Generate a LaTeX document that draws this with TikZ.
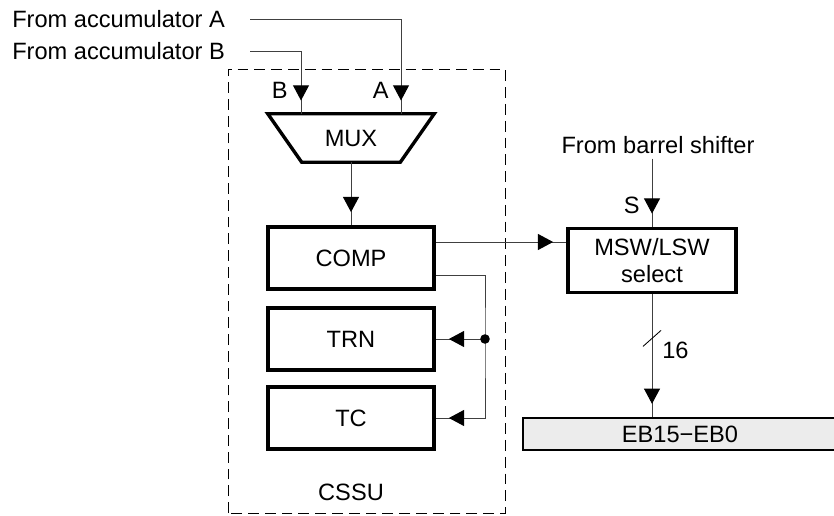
\documentclass[tikz,border=0pt]{standalone}
\usepackage{fontspec}
\setmainfont{Liberation Sans}
\usetikzlibrary{arrows.meta,positioning,decorations.markings,calc}

\begin{document}
\begin{tikzpicture}[
  blk/.style={draw,line width=2.4pt,minimum width=4.15cm,minimum height=1.55cm},
  wire/.style={draw=black!75,line width=0.7pt},
  arr/.style={wire,postaction={decorate},
    decoration={markings,mark=at position -0.33cm with {\arrow[black]{Triangle[length=0.38cm,width=0.4cm]}}}},
  lbl/.style={inner sep=0pt},
  every node/.style={font=\fontsize{16.8}{19}\selectfont}
]
  \useasboundingbox (0,0) rectangle (20.85,12.875);

  % inputs
  \node[lbl,anchor=west] (accA) at (0.3,12.4) {From accumulator A};
  \node[lbl,anchor=west] (accB) at (0.3,11.6) {From accumulator B};
  \coordinate (inA) at (6.25,12.4);
  \coordinate (inB) at (6.25,11.6);

  % CSSU
  \draw[dash pattern=on 0.27cm off 0.15cm,line width=0.7pt] (5.7,0.05) rectangle (12.625,11.15);
  \node (cssu) at (8.775,0.575) {CSSU};

  \node[minimum width=4.15cm,minimum height=1.2cm] (mux) at (8.775,9.425) {MUX};
  \draw[line width=2.4pt] (mux.north west) -- (mux.north east)
    -- ([xshift=-0.85cm]mux.south east) -- ([xshift=0.85cm]mux.south west) -- cycle;

  \node[blk] (comp) at (8.775,6.425) {COMP};
  \node[blk] (trn)  at (8.775,4.4)   {TRN};
  \node[blk] (tc)   at (8.775,2.425) {TC};

  \node[blk,minimum width=4.2cm,minimum height=1.6cm,align=center] (msw) at (16.3,6.3625) {MSW/LSW\\select};
  \node (bsh) at (16.45,9.25) {From barrel shifter};
  \node[draw,line width=1.4pt,fill=gray!15,minimum width=7.85cm,minimum height=0.8cm] (eb) at (17.0,2.025) {EB15−EB0};

  % labels
  \node[lbl,anchor=east] (lB) at (7.2,10.625) {B};
  \node[lbl,anchor=east] (lA) at (9.72,10.625) {A};
  \node[lbl,anchor=east] (lS) at (16.0,7.75) {S};

  % connectors
  \draw[arr] (inA) -| ([xshift=1.25cm]mux.north);
  \draw[arr] (inB) -| ([xshift=-1.25cm]mux.north);
  \draw[arr] (mux.south) -- (comp.north);
  \coordinate (c1) at ([yshift=0.4cm]comp.east);
  \coordinate (c2) at ([yshift=-0.425cm]comp.east);
  \draw[arr] (c1) -- (c1 -| msw.west);
  \coordinate (jn) at (12.125,4.4);
  \draw[arr] (c2) -| (jn) |- (tc.east);
  \draw[arr] (jn) -- (trn.east);
  \fill (jn) circle (0.12);
  \draw[arr] (bsh.south -| msw.north) -- (msw.north);
  \draw[arr] (msw.south) -- (msw.south |- eb.north) coordinate[pos=0.36] (bus);
  \draw[line width=0.6pt] ([shift={(-0.225,-0.2)}]bus) -- ([shift={(0.225,0.2)}]bus);
  \node[lbl,anchor=west] (w16) at (16.55,4.125) {16};
\end{tikzpicture}
\end{document}
